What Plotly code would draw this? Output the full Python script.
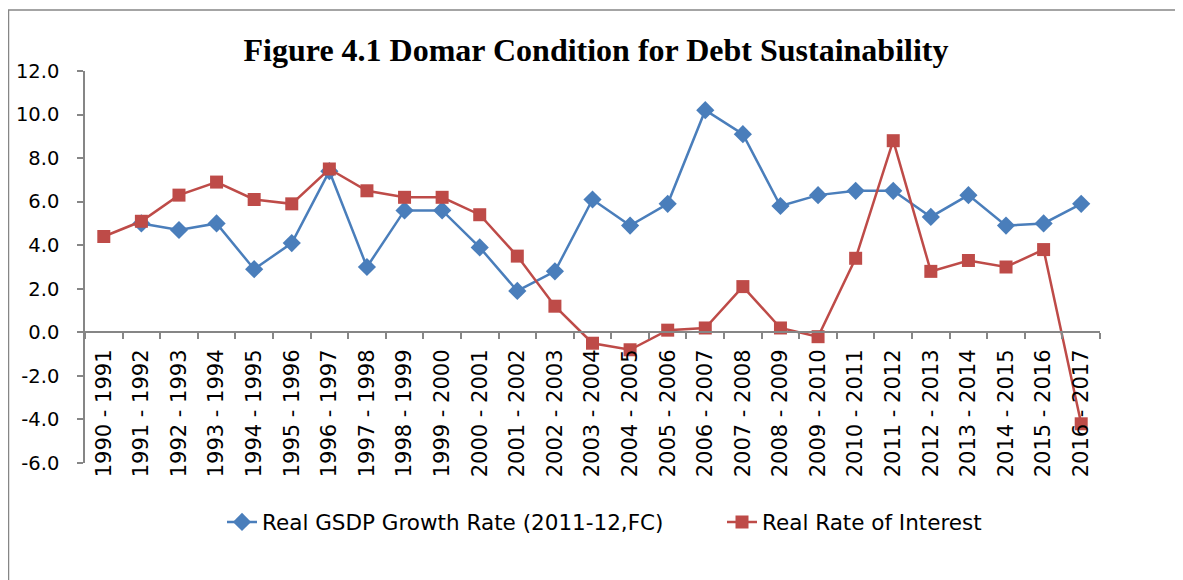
import plotly.graph_objects as go

categories = ["1990 - 1991", "1991 - 1992", "1992 - 1993", "1993 - 1994", "1994 - 1995",
              "1995 - 1996", "1996 - 1997", "1997 - 1998", "1998 - 1999", "1999 - 2000",
              "2000 - 2001", "2001 - 2002", "2002 - 2003", "2003 - 2004", "2004 - 2005",
              "2005 - 2006", "2006 - 2007", "2007 - 2008", "2008 - 2009", "2009 - 2010",
              "2010 - 2011", "2011 - 2012", "2012 - 2013", "2013 - 2014", "2014 - 2015",
              "2015 - 2016", "2016 - 2017"]

gsdp_growth = [None, 5.0, 4.7, 5.0, 2.9, 4.1, 7.4, 3.0, 5.6, 5.6,
               3.9, 1.9, 2.8, 6.1, 4.9, 5.9, 10.2, 9.1, 5.8, 6.3,
               6.5, 6.5, 5.3, 6.3, 4.9, 5.0, 5.9]

real_interest = [4.4, 5.1, 6.3, 6.9, 6.1, 5.9, 7.5, 6.5, 6.2, 6.2,
                 5.4, 3.5, 1.2, -0.5, -0.8, 0.1, 0.2, 2.1, 0.2, -0.2,
                 3.4, 8.8, 2.8, 3.3, 3.0, 3.8, -4.2]

y_ticks = [-6, -4, -2, 0, 2, 4, 6, 8, 10, 12]
y_tick_text = ["-6.0", "-4.0", "-2.0", "0.0", "2.0", "4.0", "6.0", "8.0", "10.0", "12.0"]

BLUE = "#4A7EBB"
RED = "#BE4B48"
AXIS = "#868686"
FONT = "DejaVu Sans, sans-serif"

# page body offsets the figure by 8px; layout numbers below are in figure coords
L, R, T, B = 77, 91, 63, 125
PW, PH = 1183 - L - R, 580 - T - B
LEG_Y = -(514 - (580 - B)) / PH

fig = go.Figure()
fig.add_trace(go.Scatter(
    x=categories, y=gsdp_growth, mode="lines+markers",
    name="Real GSDP Growth Rate (2011-12,FC)",
    line=dict(color=BLUE, width=2.5),
    marker=dict(symbol="diamond", size=14, color=BLUE),
    connectgaps=False, legend="legend",
))
fig.add_trace(go.Scatter(
    x=categories, y=real_interest, mode="lines+markers",
    name="Real Rate of Interest",
    line=dict(color=RED, width=2.5),
    marker=dict(symbol="square", size=13, color=RED),
    legend="legend2",
))

# outer chart border
fig.add_shape(type="rect", xref="paper", yref="paper",
              x0=(0.5 - L) / PW, x1=(1300 - L) / PW,
              y0=-(700 - (580 - B)) / PH, y1=1 + (T - 2) / PH,
              line=dict(color=AXIS, width=1.5), fillcolor="rgba(0,0,0,0)", layer="below")

legend_common = dict(orientation="h", xanchor="left", y=LEG_Y, yanchor="middle",
                     font=dict(family=FONT, size=21.5, color="black"),
                     bgcolor="rgba(0,0,0,0)")

fig.update_layout(
    width=1183, height=580,
    margin=dict(l=L, r=R, t=T, b=B),
    paper_bgcolor="white", plot_bgcolor="white",
    title=dict(text="<b>Figure 4.1 Domar Condition for Debt Sustainability</b>",
               font=dict(family="Liberation Serif, Times New Roman, serif", size=32, color="black"),
               x=(588 - L) / PW, xref="paper", xanchor="center",
               y=1 - 42 / 580, yref="container", yanchor="middle"),
    showlegend=True,
    legend=dict(x=(214 - L) / PW, **legend_common),
    legend2=dict(x=(714 - L) / PW, **legend_common),
    font=dict(family=FONT, color="black"),
)

fig.update_xaxes(
    type="category", range=[-0.5, 26.5],
    showline=True, linecolor=AXIS, linewidth=1.5,
    ticks="outside", tickson="boundaries", ticklen=6, tickcolor=AXIS, tickwidth=1.5,
    tickangle=-90, tickfont=dict(family=FONT, size=21, color="black"),
    ticklabelstandoff=8,
    showgrid=False, zeroline=False, automargin=False,
    anchor="free", position=1 / 3,
)
fig.update_yaxes(
    range=[-6, 12], tickvals=y_ticks, ticktext=y_tick_text,
    showline=True, linecolor=AXIS, linewidth=1.5,
    ticks="outside", ticklen=6, tickcolor=AXIS, tickwidth=1.5,
    tickfont=dict(family=FONT, size=19.5, color="black"),
    ticklabelstandoff=14,
    showgrid=False, zeroline=False, automargin=False,
)

fig.write_html("out.html")
